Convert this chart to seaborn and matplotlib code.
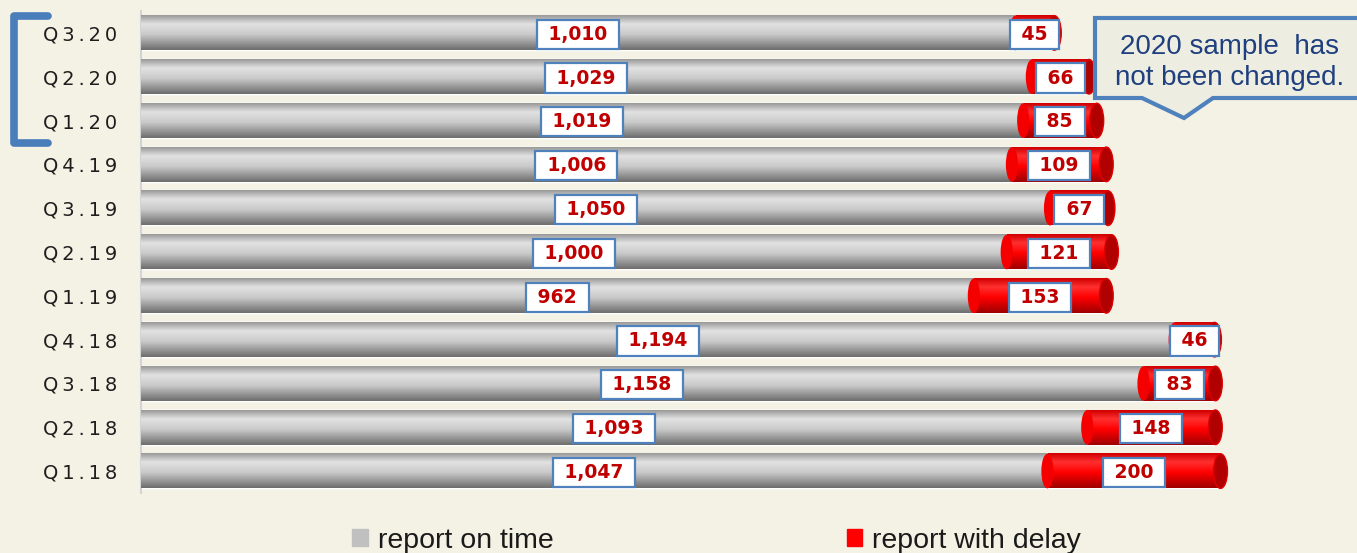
import numpy as np
import pandas as pd
import matplotlib
matplotlib.use('Agg')
import matplotlib.pyplot as plt
import seaborn as sns
from matplotlib.colors import LinearSegmentedColormap
from matplotlib.patches import Ellipse, Polygon, Patch
from matplotlib.lines import Line2D

# ── data ─────────────────────────────────────────────────────────
quarters = ['Q3.20', 'Q2.20', 'Q1.20', 'Q4.19', 'Q3.19', 'Q2.19',
            'Q1.19', 'Q4.18', 'Q3.18', 'Q2.18', 'Q1.18']
on_time = [1010, 1029, 1019, 1006, 1050, 1000, 962, 1194, 1158, 1093, 1047]
delayed = [45, 66, 85, 109, 67, 121, 153, 46, 83, 148, 200]
legend_labels = ['report on time', 'report with delay']
note = '2020 sample  has\nnot been changed.'

df = pd.DataFrame({'quarter': quarters, 'on_time': on_time, 'delayed': delayed})
df['total'] = df['on_time'] + df['delayed']

BG = '#F4F2E4'
BLUE = '#4F81BD'
W, H = 1357, 553

sns.set_theme(style='white')
plt.rcParams['font.family'] = ['DejaVu Sans']

fig = plt.figure(figsize=(W / 100, H / 100), dpi=100, facecolor=BG)
ax = fig.add_axes([141 / W, 1 - 493 / H, (1353 - 141) / W, (493 - 11) / H])
ax.set_facecolor(BG)

bw = 0.79
sns.barplot(data=df, y='quarter', x='total', color='#FF0000', width=bw,
            orient='h', errorbar=None, saturation=1, ax=ax)
sns.barplot(data=df, y='quarter', x='on_time', color='#C0C0C0', width=bw,
            orient='h', errorbar=None, saturation=1, ax=ax)

# cylinder shading
gray_cm = LinearSegmentedColormap.from_list('g', [(0, '#9A9A9A'), (0.25, '#E2E2E2'),
                                                  (0.55, '#CACACA'), (1, '#6E6E6E')])
red_cm = LinearSegmentedColormap.from_list('r', [(0, '#D00000'), (0.25, '#FF3030'),
                                                 (0.55, '#FF0000'), (1, '#A00000')])
gray_img = gray_cm(np.linspace(0, 1, 64))[:, None, :]
red_img = red_cm(np.linspace(0, 1, 64))[:, None, :]

for i, (t, d) in enumerate(zip(on_time, delayed)):
    y0 = i - bw / 2
    ax.imshow(red_img, extent=(t, t + d, y0 + bw, y0), aspect='auto',
              origin='upper', zorder=2, interpolation='bilinear')
    ax.add_patch(Ellipse((t + d, i), 16, bw, facecolor='#B00000',
                         edgecolor='#E00000', lw=1, zorder=2.5))
    ax.imshow(gray_img, extent=(0, t, y0 + bw, y0), aspect='auto',
              origin='upper', zorder=3, interpolation='bilinear')
    ax.add_patch(Ellipse((t, i), 14, bw, facecolor='#F40000',
                         edgecolor='none', zorder=3.5))

    box = dict(boxstyle='square,pad=0.27', fc='white', ec=BLUE, lw=1.6)
    ax.text(t / 2, i + 0.03, f' {t:,} ', ha='center', va='center', fontsize=13.5,
            fontweight='bold', color='#C00000', bbox=box, zorder=5)
    ax.text(t + d / 2, i + 0.03, f' {d:,} ', ha='center', va='center', fontsize=13.5,
            fontweight='bold', color='#C00000', bbox=box, zorder=5)

ax.set_xlim(0, 1400)
ax.set_ylim(len(quarters) - 0.5, -0.5)
ax.set_xlabel('')
ax.set_ylabel('')
ax.set_xticks([])
ax.set_yticks(range(len(quarters)))
ax.set_yticklabels(['\u2009'.join(q) for q in quarters], fontsize=14, color='#1E1E1E')
ax.tick_params(axis='y', length=0, pad=17)
for s in ['top', 'right', 'bottom']:
    ax.spines[s].set_visible(False)
ax.spines['left'].set_color('#D4D4D4')
ax.spines['left'].set_linewidth(1.5)

# legend
handles = [Patch(color='#C0C0C0'), Patch(color='#FF0000')]
fig.legend(handles, legend_labels, loc='lower center', ncol=2,
           bbox_to_anchor=(0.528, -0.048), frameon=False, columnspacing=10.3,
           handlelength=0.55, handleheight=0.55, handletextpad=0.35,
           labelcolor='#1A1A1A', prop={'family': 'Liberation Sans', 'size': 20.5})

# bracket for 2020
px = lambda x, y: (x / W, 1 - y / H)
bx, by = zip(*[px(48, 16), px(14, 16), px(14, 143), px(48, 143)])
fig.add_artist(Line2D(bx, by, color='#4A7EBB', lw=5.5, transform=fig.transFigure,
                      solid_joinstyle='round'))

# callout
pts = [px(1095, 18), px(1375, 18), px(1375, 98), px(1213, 98),
       px(1184, 118), px(1142, 98), px(1095, 98)]
fig.add_artist(Polygon(pts, closed=True, transform=fig.transFigure,
                       fc='#EEEDE2', ec=BLUE, lw=3, zorder=10))
fig.text(*px(1230, 63), note, ha='center', va='center', fontsize=20,
         color='#1F3F7F', family='Liberation Sans', linespacing=1.25, zorder=11)

fig.savefig('out.png', dpi=100, facecolor=BG)
